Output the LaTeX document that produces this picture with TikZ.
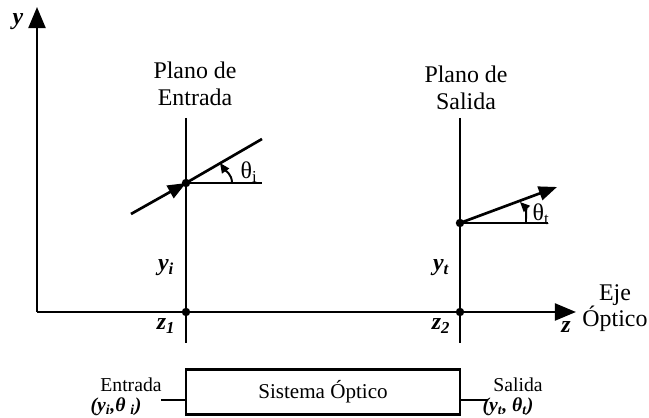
\documentclass[tikz,border=0pt]{standalone}
\usepackage{fontspec}
\setmainfont{Liberation Serif}
\usepackage{tikz}
\usetikzlibrary{arrows.meta,positioning,calc}

\begin{document}
\begin{tikzpicture}[x=0.25mm, y=0.25mm,
  ax/.style={line width=1.9pt, -{Triangle[length=15pt,width=12pt]}},
  ln/.style={line width=1.9pt},
  ray/.style={line width=1.9pt, -{Triangle[length=13pt,width=10pt]}},
  ang/.style={line width=1.4pt, -{Triangle[length=7pt,width=6pt]}},
  pt/.style={circle, fill=black, inner sep=0pt, minimum size=6pt},
  txt/.style={font=\fontsize{17}{19}\selectfont, align=center},
  sml/.style={font=\fontsize{14}{16}\selectfont, inner sep=0pt},
  tht/.style={font=\fontsize{17}{19}\selectfont, inner sep=1pt},
  bi/.style={font=\fontsize{17}{19}\selectfont\bfseries\itshape, inner sep=1pt},
  bis/.style={font=\fontsize{14}{16}\selectfont\bfseries\itshape, inner sep=0pt},
]
\useasboundingbox (0,0) rectangle (649,418);

%==== Ejes ====
\coordinate (O)  at (37,106);
\coordinate (ytip) at (37,411);
\coordinate (ztip) at (576,106);
\draw[ax] (O) -- (ytip);
\draw[ax] (O) -- (ztip);
\node[bi] (ylab) at (18,396) {y};
\node[bi] (zlab) at (566,91) {z};
\node[txt, inner sep=0pt] (eje) at (615,110) {Eje\\Óptico};

%==== Plano de entrada ====
\coordinate (p1top) at (186,300);
\coordinate (p1bot) at (186,75);
\draw[ln] (p1top) -- (p1bot);
\node[txt] (pe) at (195,334) {Plano de\\Entrada};
\node[pt] (d1) at (186,235) {};
\node[pt] (z1) at (186,106) {};
\coordinate (r1a) at (131,204);
\coordinate (r1b) at (262,279);
\coordinate (h1) at (262,235);
\draw[ray] (r1a) -- (d1.center);
\draw[ln] (d1.center) -- (r1b);
\draw[ln] (d1.center) -- (h1);
\coordinate (a1s) at (232,235);
\coordinate (a1e) at (220,255);
\draw[ang] (a1s) to[out=90, in=-55] (a1e);
\node[tht] (ti) at (249,246) {θ\textsubscript{i}};
\node[bi] (yi) at (166,150) {y\textsubscript{\itshape i}};
\node[bi] (zi) at (166,92) {z\textsubscript{1}};

%==== Plano de salida ====
\coordinate (p2top) at (460,300);
\coordinate (p2bot) at (460,75);
\draw[ln] (p2top) -- (p2bot);
\node[txt] (ps) at (466,330) {Plano de\\Salida};
\node[pt] (d2) at (460,195) {};
\node[pt] (z2) at (460,106) {};
\coordinate (r2b) at (557,231);
\coordinate (h2) at (548,195);
\draw[ray] (d2.center) -- (r2b);
\draw[ln] (d2.center) -- (h2);
\coordinate (a2s) at (526,195);
\coordinate (a2e) at (520,216);
\draw[ang] (a2s) to[out=90, in=-45] (a2e);
\node[tht] (tt) at (541,204) {θ\textsubscript{t}};
\node[bi] (yt) at (441,150) {y\textsubscript{\itshape t}};
\node[bi] (zt) at (441,92) {z\textsubscript{2}};

%==== Sistema optico ====
\node[draw, line width=1.9pt, inner sep=0pt,
  minimum width=68.5mm, minimum height=11.3mm,
  font=\fontsize{15}{17}\selectfont] (sis) at (323,26) {Sistema Óptico};
\coordinate (inL) at (161,18);
\coordinate (outR) at (488,18);
\draw[ln] (inL) -- (inL -| sis.west);
\draw[ln] (outR -| sis.east) -- (outR);
\node[sml] (ent) at (131,33) {Entrada};
\node[bis] (ein) at (116,11) {(y\textsubscript{i},θ \textsubscript{i})};
\node[sml] (sal) at (518,33) {Salida};
\node[bis] (sout) at (508,11) {(y\textsubscript{t}, θ\textsubscript{t})};

\end{tikzpicture}
\end{document}
